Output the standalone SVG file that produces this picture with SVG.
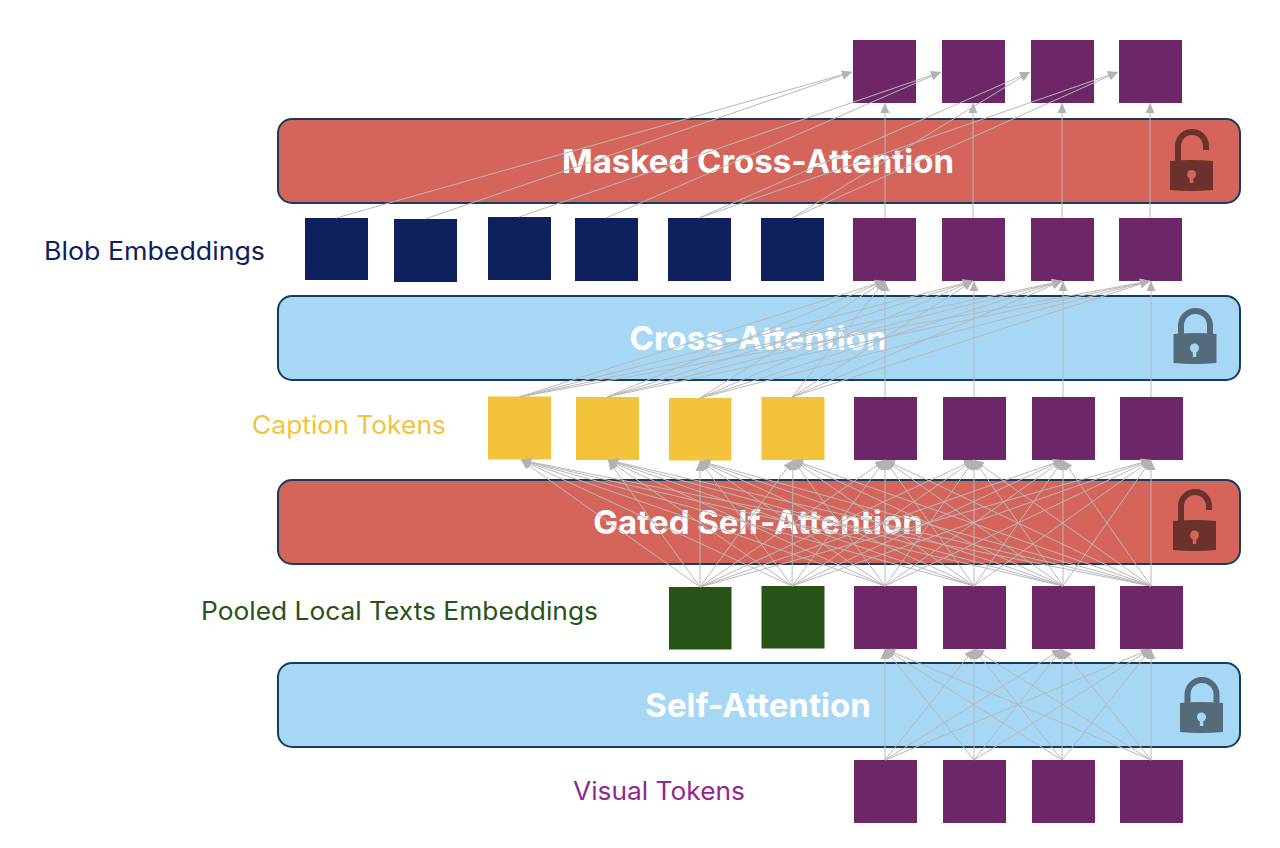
<svg xmlns="http://www.w3.org/2000/svg" width="1280" height="848" viewBox="0 0 1280 848">
<style>
.band{stroke:#163e5c;stroke-width:2}
.red{fill:#d5655a}.blue{fill:#a6d8f6}
.p{fill:#6d2769}.n{fill:#0e205e}.y{fill:#f3c33b}.g{fill:#275317}
.t{font-family:"Inter","Liberation Sans",sans-serif;font-weight:700;font-size:33px;fill:#fff;text-anchor:middle}
.l{font-family:"Inter","Liberation Sans",sans-serif;font-size:25px}
#c line{stroke:#b8b8b8;stroke-width:1;marker-end:url(#a)}
</style>
<defs>
<marker id="a" markerUnits="userSpaceOnUse" markerWidth="11" markerHeight="10" refX="10" refY="5" orient="auto"><path d="M0 0.500L10 5L0 9.500Z" fill="#b2b2b2"/></marker>
<g id="lock"><path d="M7.500 4V-7.500A14.500 14.500 0 0 1 36.500-7.500V4" fill="none" stroke-width="6"/><path d="M0 1Q21.500-1 43 1V30Q21.500 32 0 30Z" stroke="none"/></g>
<g id="unlock"><path d="M8 4V-14A14 14 0 0 1 36-14V-10" fill="none" stroke-width="6"/><path d="M0 1Q21.500-1 43 1V30Q21.500 32 0 30Z" stroke="none"/></g>
</defs>
<g id="band-masked"><rect class="band red" x="278" y="119" width="962" height="84" rx="14"/><text class="t" x="758" y="173">Masked Cross-Attention</text><use href="#unlock" x="1170" y="160" fill="#6b322c" stroke="#6b322c"/><circle cx="1191.500" cy="174.500" r="4.500" fill="#d5655a"/><rect x="1189.800" y="175" width="3.500" height="8" fill="#d5655a"/></g>
<g id="band-cross"><rect class="band blue" x="278" y="296" width="962" height="84" rx="14"/><text class="t" x="758" y="350">Cross-Attention</text><use href="#lock" x="1173.500" y="333" fill="#546b7c" stroke="#546b7c"/><circle cx="1194.500" cy="348" r="4.500" fill="#a6d8f6"/><rect x="1192.800" y="349" width="3.500" height="8" fill="#a6d8f6"/></g>
<g id="band-gated"><rect class="band red" x="278" y="480" width="962" height="84" rx="14"/><text class="t" x="758" y="534">Gated Self-Attention</text><use href="#unlock" x="1173" y="520" fill="#6b322c" stroke="#6b322c"/><circle cx="1194.500" cy="535" r="4.500" fill="#d5655a"/><rect x="1192.800" y="536" width="3.500" height="8" fill="#d5655a"/></g>
<g id="band-self"><rect class="band blue" x="278" y="663" width="962" height="84" rx="14"/><text class="t" x="758" y="717">Self-Attention</text><use href="#lock" x="1180" y="702" fill="#546b7c" stroke="#546b7c"/><circle cx="1201.500" cy="717" r="4.500" fill="#a6d8f6"/><rect x="1199.800" y="718" width="3.500" height="8" fill="#a6d8f6"/></g>
<g id="top-row">
<rect class="p" x="853" y="40" width="63" height="63"/><rect class="p" x="942" y="40" width="63" height="63"/><rect class="p" x="1031" y="40" width="63" height="63"/><rect class="p" x="1119" y="40" width="63" height="63"/>
</g>
<g id="blob-row">
<rect class="n" x="305" y="218" width="63" height="62"/><rect class="n" x="394" y="219" width="63" height="63"/><rect class="n" x="488" y="217" width="63" height="63"/><rect class="n" x="575" y="218" width="63" height="63"/><rect class="n" x="668" y="218" width="63" height="63"/><rect class="n" x="761" y="218" width="63" height="63"/>
<rect class="p" x="853" y="218" width="63" height="63"/><rect class="p" x="942" y="218" width="63" height="63"/><rect class="p" x="1031" y="218" width="63" height="63"/><rect class="p" x="1119" y="218" width="63" height="63"/>
</g>
<g id="caption-row">
<rect class="y" x="488" y="396.500" width="63" height="63"/><rect class="y" x="576" y="397" width="63" height="63"/><rect class="y" x="669" y="398" width="62.500" height="62.500"/><rect class="y" x="761.500" y="397" width="63" height="63"/>
<rect class="p" x="854" y="397" width="63" height="63"/><rect class="p" x="943" y="397" width="63" height="63"/><rect class="p" x="1032" y="397" width="63" height="63"/><rect class="p" x="1120" y="397" width="63" height="63"/>
</g>
<g id="pooled-row">
<rect class="g" x="669" y="587" width="62.500" height="62.500"/><rect class="g" x="761.500" y="586" width="63" height="62.500"/>
<rect class="p" x="854" y="586" width="63" height="63"/><rect class="p" x="943" y="586" width="63" height="63"/><rect class="p" x="1032" y="586" width="63" height="63"/><rect class="p" x="1120" y="586" width="63" height="63"/>
</g>
<g id="visual-row">
<rect class="p" x="854" y="760" width="63" height="63"/><rect class="p" x="943" y="760" width="63" height="63"/><rect class="p" x="1032" y="760" width="63" height="63"/><rect class="p" x="1120" y="760" width="63" height="63"/>
</g>
<g id="labels">
<text class="l" x="44" y="260" fill="#0e205e" textLength="221" lengthAdjust="spacingAndGlyphs">Blob Embeddings</text>
<text class="l" x="252" y="434" fill="#f3c33b" textLength="194" lengthAdjust="spacingAndGlyphs">Caption Tokens</text>
<text class="l" x="201" y="620" fill="#275317" textLength="397" lengthAdjust="spacingAndGlyphs">Pooled Local Texts Embeddings</text>
<text class="l" x="573" y="800" fill="#92278f" textLength="172" lengthAdjust="spacingAndGlyphs">Visual Tokens</text>
</g>
<g id="c">
<line x1="336" y1="218" x2="852" y2="72"/><line x1="425" y1="219" x2="852" y2="72"/><line x1="519" y1="217" x2="941" y2="72"/><line x1="606" y1="218" x2="941" y2="72"/><line x1="699" y1="218" x2="1030" y2="72"/><line x1="792" y1="218" x2="1030" y2="72"/><line x1="699" y1="218" x2="1118" y2="72"/><line x1="792" y1="218" x2="1118" y2="72"/>
<line x1="885" y1="218" x2="885" y2="103"/><line x1="973" y1="218" x2="973" y2="103"/><line x1="1062" y1="218" x2="1062" y2="103"/><line x1="1150" y1="218" x2="1150" y2="103"/>
<line x1="885" y1="397" x2="885" y2="281"/><line x1="974" y1="397" x2="974" y2="281"/><line x1="1063" y1="397" x2="1063" y2="281"/><line x1="1151" y1="397" x2="1151" y2="281"/>
<line x1="519" y1="397" x2="885" y2="281"/><line x1="519" y1="397" x2="973" y2="281"/><line x1="519" y1="397" x2="1062" y2="281"/><line x1="519" y1="397" x2="1150" y2="281"/>
<line x1="607" y1="397" x2="885" y2="281"/><line x1="607" y1="397" x2="973" y2="281"/><line x1="607" y1="397" x2="1062" y2="281"/><line x1="607" y1="397" x2="1150" y2="281"/>
<line x1="700" y1="398" x2="885" y2="281"/><line x1="700" y1="398" x2="973" y2="281"/><line x1="700" y1="398" x2="1062" y2="281"/><line x1="700" y1="398" x2="1150" y2="281"/>
<line x1="792" y1="397" x2="885" y2="281"/><line x1="792" y1="397" x2="973" y2="281"/><line x1="792" y1="397" x2="1062" y2="281"/><line x1="792" y1="397" x2="1150" y2="281"/>
<line x1="700" y1="587" x2="521" y2="460"/><line x1="700" y1="587" x2="608" y2="460"/><line x1="700" y1="587" x2="700" y2="461"/><line x1="700" y1="587" x2="793" y2="460"/><line x1="700" y1="587" x2="885" y2="460"/><line x1="700" y1="587" x2="974" y2="460"/><line x1="700" y1="587" x2="1063" y2="460"/><line x1="700" y1="587" x2="1151" y2="460"/>
<line x1="792" y1="586" x2="521" y2="460"/><line x1="792" y1="586" x2="608" y2="460"/><line x1="792" y1="586" x2="700" y2="461"/><line x1="792" y1="586" x2="793" y2="460"/><line x1="792" y1="586" x2="885" y2="460"/><line x1="792" y1="586" x2="974" y2="460"/><line x1="792" y1="586" x2="1063" y2="460"/><line x1="792" y1="586" x2="1151" y2="460"/>
<line x1="885" y1="586" x2="521" y2="460"/><line x1="885" y1="586" x2="608" y2="460"/><line x1="885" y1="586" x2="700" y2="461"/><line x1="885" y1="586" x2="793" y2="460"/><line x1="885" y1="586" x2="885" y2="460"/><line x1="885" y1="586" x2="974" y2="460"/><line x1="885" y1="586" x2="1063" y2="460"/><line x1="885" y1="586" x2="1151" y2="460"/>
<line x1="974" y1="586" x2="521" y2="460"/><line x1="974" y1="586" x2="608" y2="460"/><line x1="974" y1="586" x2="700" y2="461"/><line x1="974" y1="586" x2="793" y2="460"/><line x1="974" y1="586" x2="885" y2="460"/><line x1="974" y1="586" x2="974" y2="460"/><line x1="974" y1="586" x2="1063" y2="460"/><line x1="974" y1="586" x2="1151" y2="460"/>
<line x1="1063" y1="586" x2="521" y2="460"/><line x1="1063" y1="586" x2="608" y2="460"/><line x1="1063" y1="586" x2="700" y2="461"/><line x1="1063" y1="586" x2="793" y2="460"/><line x1="1063" y1="586" x2="885" y2="460"/><line x1="1063" y1="586" x2="974" y2="460"/><line x1="1063" y1="586" x2="1063" y2="460"/><line x1="1063" y1="586" x2="1151" y2="460"/>
<line x1="1151" y1="586" x2="521" y2="460"/><line x1="1151" y1="586" x2="608" y2="460"/><line x1="1151" y1="586" x2="700" y2="461"/><line x1="1151" y1="586" x2="793" y2="460"/><line x1="1151" y1="586" x2="885" y2="460"/><line x1="1151" y1="586" x2="974" y2="460"/><line x1="1151" y1="586" x2="1063" y2="460"/><line x1="1151" y1="586" x2="1151" y2="460"/>
<line x1="885" y1="760" x2="885" y2="649"/><line x1="885" y1="760" x2="974" y2="649"/><line x1="885" y1="760" x2="1062" y2="649"/><line x1="885" y1="760" x2="1151" y2="649"/>
<line x1="974" y1="760" x2="885" y2="649"/><line x1="974" y1="760" x2="974" y2="649"/><line x1="974" y1="760" x2="1062" y2="649"/><line x1="974" y1="760" x2="1151" y2="649"/>
<line x1="1062" y1="760" x2="885" y2="649"/><line x1="1062" y1="760" x2="974" y2="649"/><line x1="1062" y1="760" x2="1062" y2="649"/><line x1="1062" y1="760" x2="1151" y2="649"/>
<line x1="1151" y1="760" x2="885" y2="649"/><line x1="1151" y1="760" x2="974" y2="649"/><line x1="1151" y1="760" x2="1062" y2="649"/><line x1="1151" y1="760" x2="1151" y2="649"/>
</g>
</svg>
